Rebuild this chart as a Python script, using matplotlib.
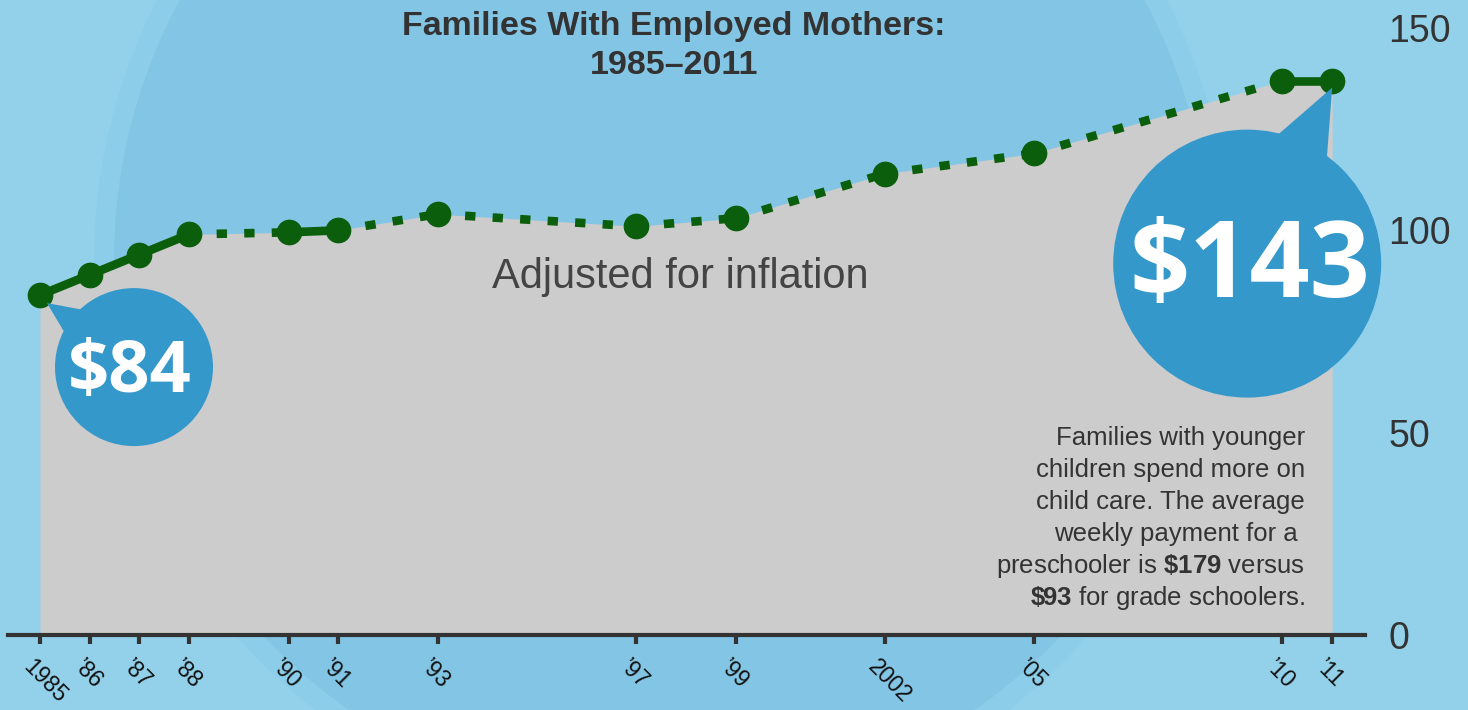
import matplotlib
matplotlib.use("Agg")
import matplotlib.pyplot as plt
from matplotlib.patches import Circle, Polygon
from matplotlib.transforms import ScaledTranslation

plt.rcParams['font.family'] = ['Liberation Sans', 'DejaVu Sans']
plt.rcParams['mathtext.fontset'] = 'custom'
plt.rcParams['mathtext.rm'] = 'Liberation Sans'
plt.rcParams['mathtext.bf'] = 'Liberation Sans:bold'

# weekly child care cost (dollars, adjusted for inflation)
years = [1985, 1986, 1987, 1988, 1990, 1991, 1993, 1997, 1999, 2002, 2005, 2010, 2011]
costs = [84, 89, 94, 99, 99.5, 100, 104, 101, 103, 114, 119, 137, 137]
year_labels = ['1985', '\u201986', '\u201987', '\u201988', '\u201990', '\u201991', '\u201993',
               '\u201997', '\u201999', '2002', '\u201905', '\u201910', '\u201911']
y_ticks = [0, 50, 100, 150]

note_lines = [
    'Families with younger',
    'children spend more on',
    'child care. The average',
    'weekly payment for a ',
    r'preschooler is $\mathbf{\$179}$ versus',
    r'$\mathbf{\$93}$ for grade schoolers.',
]

W, H = 1468, 710
GREEN = '#0b5e0b'
BLUE = '#3498cb'
DARK = '#333333'


def fx(x):
    return x / W


def fy(y):
    return 1 - y / H


fig = plt.figure(figsize=(W / 100, H / 100), dpi=100, facecolor='#93d1eb')

# background rings
fig.add_artist(Circle((6.62, 4.50), 5.68, transform=fig.dpi_scale_trans,
                      color='#8ccde9', zorder=-3, lw=0))
fig.add_artist(Circle((6.62, 4.50), 5.48, transform=fig.dpi_scale_trans,
                      color='#83c5e4', zorder=-2, lw=0))

ax = fig.add_axes([fx(8), fy(635), fx(1365) - fx(8), fy(28) - fy(635)])
ax.set_facecolor('none')
ax.set_xlim(1985 + (8 - 40) / 49.7, 1985 + (1365 - 40) / 49.7)
ax.set_ylim(0, 150)

ax.fill_between(years, costs, 0, color='#cccccc', lw=0, zorder=1)

# solid for consecutive years, dashed across gaps
for i in range(len(years) - 1):
    xs = years[i:i + 2]
    ys = costs[i:i + 2]
    if years[i + 1] - years[i] == 1:
        ax.plot(xs, ys, color=GREEN, lw=6.2, solid_capstyle='butt', zorder=3)
    else:
        ax.plot(xs, ys, color=GREEN, lw=6.2, dashes=(1.2, 2.0),
                dash_capstyle='butt', zorder=3)
ax.plot(years, costs, 'o', ms=17.5, color=GREEN, zorder=4)


def bubble(x, y, c, r, tri, text_pos, label, size):
    # offsets in pixels from the data point (x right, y down)
    tr = fig.dpi_scale_trans + ScaledTranslation(x, y, ax.transData)
    pts = [(px / 100, -py / 100) for px, py in tri]
    ax.add_patch(Polygon(pts, closed=True, transform=tr, color=BLUE, lw=0,
                         zorder=5, clip_on=False))
    ax.add_patch(Circle((c[0] / 100, -c[1] / 100), r / 100, transform=tr,
                        color=BLUE, lw=0, zorder=5, clip_on=False))
    ax.text(text_pos[0] / 100, -text_pos[1] / 100, label, transform=tr,
            ha='center', va='baseline', color='white', fontsize=size,
            fontfamily='Open Sans', fontweight='bold', zorder=6, clip_on=False)


bubble(years[0], costs[0], (94, 72), 79, [(7, 8), (60, 18), (35, 55)],
       (90, 97), '\\$84', 52)
bubble(years[-1], costs[-1], (-85, 183), 134, [(0, 7), (-68, 66), (-7, 99)],
       (-82, 216), '\\$143', 76)

# axes styling
for s in ['left', 'right', 'top']:
    ax.spines[s].set_visible(False)
ax.spines['bottom'].set_color(DARK)
ax.spines['bottom'].set_linewidth(3)
ax.spines['bottom'].set_zorder(7)

ax.yaxis.tick_right()
ax.set_yticks(y_ticks)
ax.set_yticklabels([str(v) for v in y_ticks])
ax.tick_params(axis='y', length=0, pad=17, labelsize=27, labelcolor=DARK)

ax.set_xticks(years)
ax.set_xticklabels(year_labels, rotation=-45, ha='left', va='center',
                   rotation_mode='anchor', fontsize=16.5, color='#111111')
ax.tick_params(axis='x', length=6.5, width=3, color=DARK, pad=14)
for lbl in ax.get_xticklabels():
    lbl.set_transform(lbl.get_transform() + ScaledTranslation(-0.13, 0, fig.dpi_scale_trans))

# titles and notes
fig.text(fx(674), fy(26), 'Families With Employed Mothers:', ha='center', va='center',
         fontsize=24.5, fontweight='bold', color=DARK)
fig.text(fx(674), fy(66), '1985\u20132011', ha='center', va='center',
         fontsize=24.5, fontweight='bold', color=DARK)
fig.text(fx(680), fy(277), 'Adjusted for inflation', ha='center', va='center',
         fontsize=30, color='#444444')

for i, line in enumerate(note_lines):
    fig.text(fx(1305), fy(445 + i * 32), line, ha='right', va='baseline',
             fontsize=18.5, color=DARK, zorder=8)

fig.savefig('out.png', dpi=100, facecolor=fig.get_facecolor())
